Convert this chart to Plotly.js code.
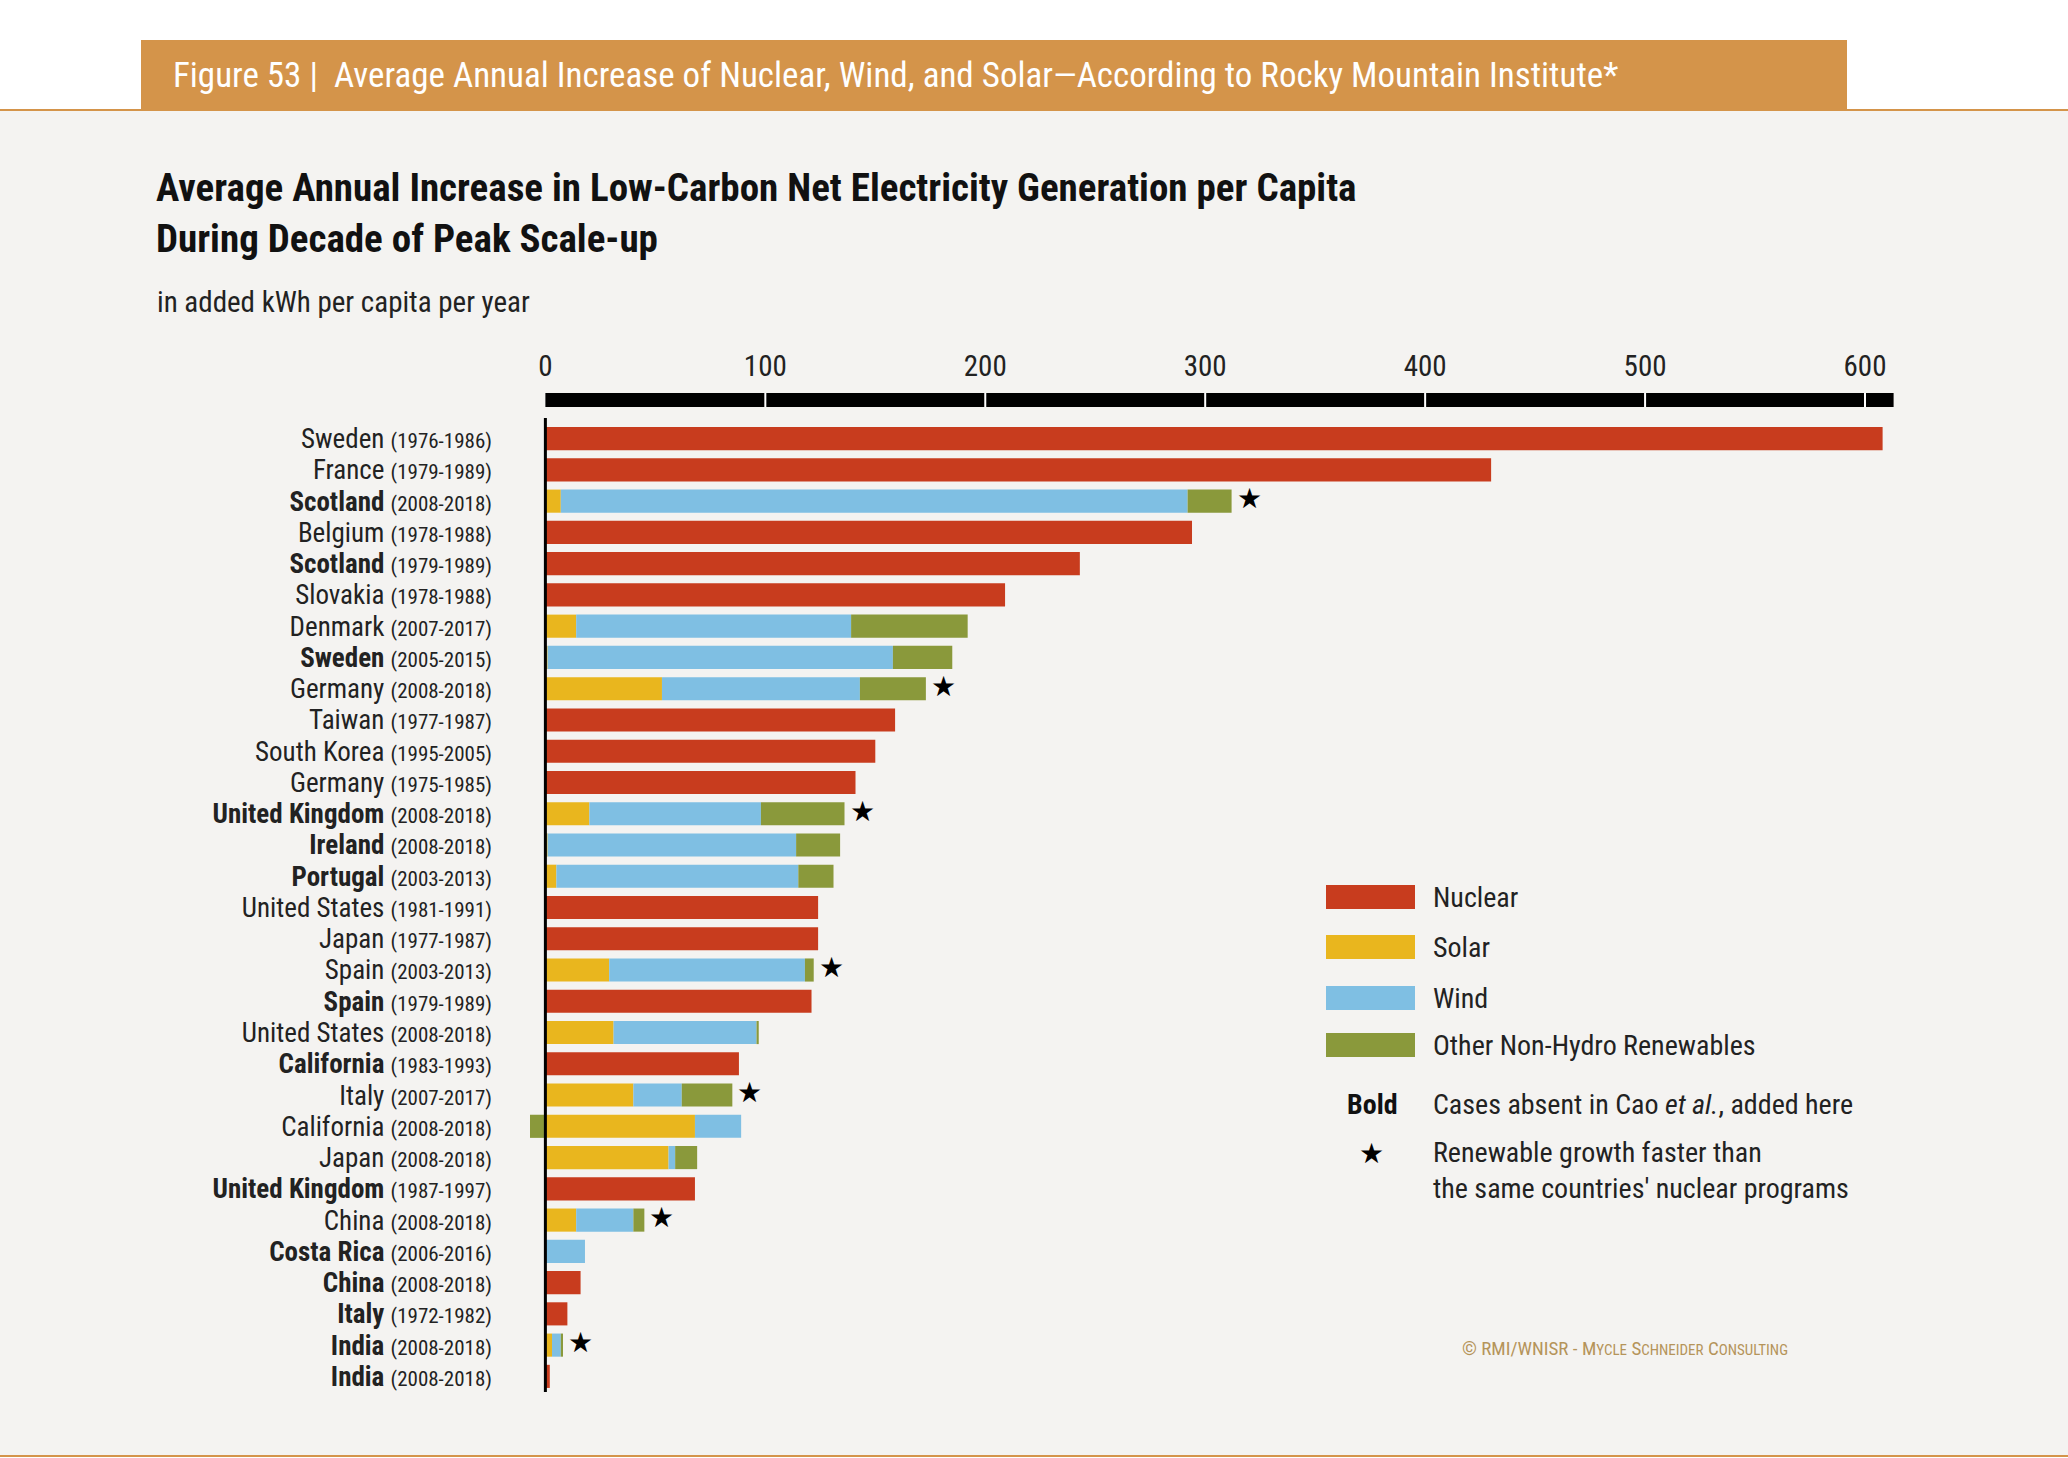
<!DOCTYPE html>
<html>
<head>
<meta charset="utf-8">
<script src="https://cdn.plot.ly/plotly-3.0.1.min.js"></script>
<style>body{margin:0;background:#fff}#chart{width:2068px;height:1458px}</style>
</head>
<body>
<div id="chart"></div>
<script>
// rows, top to bottom
var countries = ["Sweden","France","Scotland","Belgium","Scotland","Slovakia","Denmark","Sweden","Germany","Taiwan",
  "South Korea","Germany","United Kingdom","Ireland","Portugal","United States","Japan","Spain","Spain","United States",
  "California","Italy","California","Japan","United Kingdom","China","Costa Rica","China","Italy","India","India"];
var periods = ["1976-1986","1979-1989","2008-2018","1978-1988","1979-1989","1978-1988","2007-2017","2005-2015","2008-2018","1977-1987",
  "1995-2005","1975-1985","2008-2018","2008-2018","2003-2013","1981-1991","1977-1987","2003-2013","1979-1989","2008-2018",
  "1983-1993","2007-2017","2008-2018","2008-2018","1987-1997","2008-2018","2006-2016","2008-2018","1972-1982","2008-2018","2008-2018"];
var bold = [0,0,1,0,1,0,0,1,0,0, 0,0,1,1,1,0,0,0,1,0, 1,0,0,0,1,0,1,1,1,1,1];
var starred = [0,0,1,0,0,0,0,0,1,0, 0,0,1,0,0,0,0,1,0,0, 0,1,0,0,0,1,0,0,0,1,0];
var nuclear = [608,430,0,294,243,209,0,0,0,159, 150,141,0,0,0,124,124,0,121,0, 88,0,0,0,68,0,0,16,10,0,2];
var solar   = [0,0,7,0,0,0,14,1,53,0, 0,0,20,1,5,0,0,29,0,31, 0,40,68,56,0,14,0,0,0,3,0];
var wind    = [0,0,285,0,0,0,125,157,90,0, 0,0,78,113,110,0,0,89,0,65, 0,22,21,3,0,26,18,0,0,4,0];
var other   = [0,0,20,0,0,0,53,27,30,0, 0,0,38,20,16,0,0,4,0,1, 0,23,-7,10,0,5,0,0,0,1,0];
var xTicks = [0,100,200,300,400,500,600];

var legendNames = ["Nuclear","Solar","Wind","Other Non-Hydro Renewables"];
var colors = ["#c83c1e","#e9b61e","#7fbfe3","#8a993b"];

// remove a duplicated India row index check: reference has 30 rows
countries.splice(29,0); 

var n = countries.length;
var idx = countries.map(function(c,i){return i;});
var labels = countries.map(function(c,i){
  var name = bold[i] ? "<b>"+c+"</b>" : c;
  return name + " <span style='font-size:21px'>("+periods[i]+")</span>";
});

var series = [nuclear, solar, wind, other];
var traces = series.map(function(s,k){
  return {type:"bar", orientation:"h", y:idx, x:s, marker:{color:colors[k]}, width:0.74,
    name:legendNames[k], hoverinfo:"x+name"};
});
var sx=[], sy=[];
for (var i=0;i<n;i++){
  if(starred[i]){
    var tot = nuclear[i]+solar[i]+wind[i]+Math.max(other[i],0);
    sx.push(tot+8); sy.push(i);
  }
}
traces.push({type:"scatter", mode:"text", x:sx, y:sy, text:sx.map(function(){return "★";}),
  textfont:{size:28,color:"#000"}, hoverinfo:"skip"});

// pixel -> paper helpers
var L=519, R=1909, T=423, B=1392;
function px(x){return (x-L)/(R-L);}
function py(y){return 1-(y-T)/(B-T);}

var shapes = [
  {type:"rect", xref:"paper", yref:"paper", x0:px(0), x1:px(2068), y0:py(1456), y1:py(110), fillcolor:"#f4f3f1", line:{width:0}, layer:"below"},
  {type:"rect", xref:"paper", yref:"paper", x0:px(141), x1:px(1847), y0:py(110), y1:py(40), fillcolor:"#d4944a", line:{width:0}},
  {type:"line", xref:"paper", yref:"paper", x0:px(0), x1:px(2068), y0:py(110), y1:py(110), line:{color:"#d4944a",width:2}},
  {type:"line", xref:"paper", yref:"paper", x0:px(0), x1:px(2068), y0:py(1456), y1:py(1456), line:{color:"#d4944a",width:2}},
  {type:"line", xref:"x", yref:"paper", x0:0, x1:613, y0:py(400), y1:py(400), line:{color:"#000",width:14}},
  {type:"line", xref:"x", yref:"paper", x0:0, x1:0, y0:py(1392), y1:py(418), line:{color:"#000",width:3}}
];
xTicks.slice(1).forEach(function(t){
  shapes.push({type:"line", xref:"x", yref:"paper", x0:t, x1:t, y0:py(393), y1:py(407), line:{color:"#fff",width:2}});
});

var annotations = [
  {text:"Figure 53 |  Average Annual Increase of Nuclear, Wind, and Solar—According to Rocky Mountain Institute*",
   xref:"paper", yref:"paper", x:px(171), y:py(75), xanchor:"left", yanchor:"middle", showarrow:false,
   font:{size:35,color:"#fff"}},
  {text:"<b>Average Annual Increase in Low-Carbon Net Electricity Generation per Capita<br>During Decade of Peak Scale-up</b>",
   xref:"paper", yref:"paper", x:px(154), y:py(214), xanchor:"left", yanchor:"middle", align:"left", showarrow:false,
   font:{size:39,color:"#111"}},
  {text:"in added kWh per capita per year", xref:"paper", yref:"paper", x:px(155), y:py(302), xanchor:"left", yanchor:"middle",
   showarrow:false, font:{size:29,color:"#222"}},
  {text:"<b>Bold</b>", xref:"paper", yref:"paper", x:px(1372), y:py(1104), xanchor:"center", yanchor:"middle", showarrow:false, font:{size:28,color:"#111"}},
  {text:"Cases absent in Cao <i>et al.</i>, added here", xref:"paper", yref:"paper", x:px(1431), y:py(1104), xanchor:"left", yanchor:"middle", showarrow:false, font:{size:28,color:"#222"}},
  {text:"★", xref:"paper", yref:"paper", x:px(1371), y:py(1153), xanchor:"center", yanchor:"middle", showarrow:false, font:{size:28,color:"#000"}},
  {text:"Renewable growth faster than<br>the same countries' nuclear programs", xref:"paper", yref:"paper", x:px(1431), y:py(1170), xanchor:"left", yanchor:"middle", align:"left", showarrow:false, font:{size:28,color:"#222"}},
  {text:"© RMI/WNISR - M<span style='font-size:15px'>YCLE</span> S<span style='font-size:15px'>CHNEIDER</span> C<span style='font-size:15px'>ONSULTING</span>",
   xref:"paper", yref:"paper", x:px(1625), y:py(1348), xanchor:"center", yanchor:"middle", showarrow:false, font:{size:19,color:"#b5945a"}}
];
var legY = [897,947,998,1045];
legendNames.forEach(function(nm,k){
  shapes.push({type:"rect", xref:"paper", yref:"paper", x0:px(1326), x1:px(1415), y0:py(legY[k]+12), y1:py(legY[k]-12), fillcolor:colors[k], line:{width:0}});
  annotations.push({text:nm, xref:"paper", yref:"paper", x:px(1431), y:py(legY[k]), xanchor:"left", yanchor:"middle", showarrow:false, font:{size:28,color:"#222"}});
});

var layout = {
  width:2068, height:1458,
  margin:{l:L, r:2068-R, t:T, b:1458-B},
  paper_bgcolor:"rgba(0,0,0,0)", plot_bgcolor:"rgba(0,0,0,0)",
  font:{family:"Liberation Sans Narrow, Roboto Condensed, Liberation Sans, sans-serif", color:"#222"},
  barmode:"relative", showlegend:false,
  xaxis:{range:[-12,620], side:"top", tickvals:xTicks, ticks:"", showgrid:false, zeroline:false,
    showline:false, ticklabelstandoff:40, tickfont:{size:29,color:"#222"}},
  yaxis:{range:[n-0.5,-0.5], tickvals:idx, ticktext:labels, ticks:"", showgrid:false, zeroline:false,
    tickfont:{size:27,color:"#222"}, ticklabelstandoff:26},
  shapes:shapes, annotations:annotations
};
Plotly.newPlot("chart", traces, layout, {displayModeBar:false});
</script>
</body>
</html>
